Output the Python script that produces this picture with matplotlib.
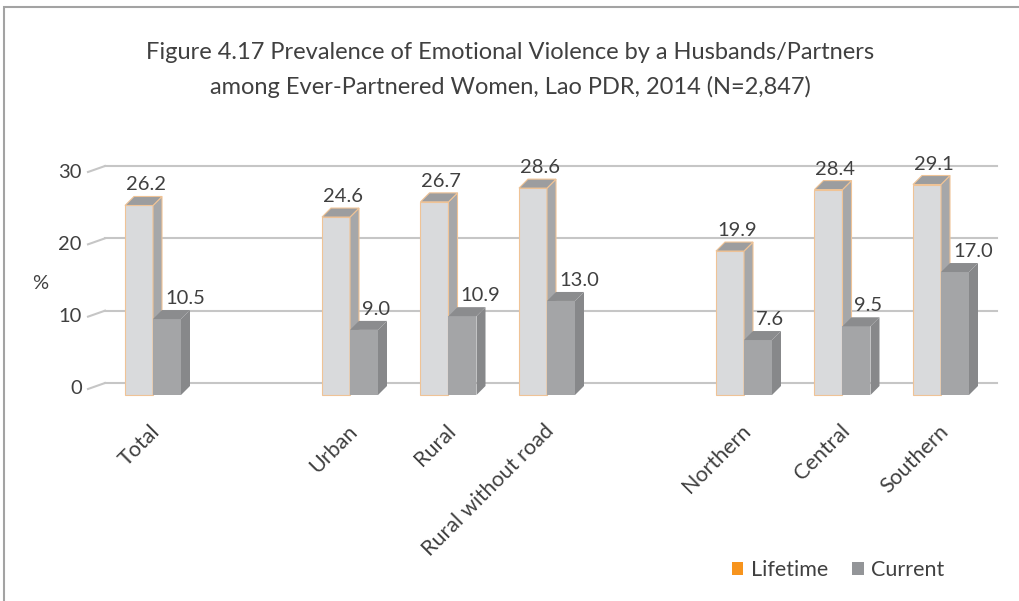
import matplotlib
matplotlib.use("Agg")
import matplotlib.pyplot as plt
from matplotlib.patches import Polygon, Rectangle, Patch

plt.rcParams['font.family'] = ['Lato', 'DejaVu Sans']

# datos
categorias = ["Total", "", "Urban", "Rural", "Rural without road", "", "Northern", "Central", "Southern"]
lifetime = [26.2, None, 24.6, 26.7, 28.6, None, 19.9, 28.4, 29.1]
current = [10.5, None, 9.0, 10.9, 13.0, None, 7.6, 9.5, 17.0]
yticks = [0, 10, 20, 30]
titulo = "Figure 4.17 Prevalence of Emotional Violence by a Husbands/Partners\namong Ever-Partnered Women, Lao PDR, 2014 (N=2,847)"

# escala en pixeles
PX_X = 98.5
PX_Y = 7.233
ancho = 28 / PX_X
dx = 9 / PX_X
dy = 9 / PX_Y
base = -12 / PX_Y
xl, xr = -48 / PX_X, -48 / PX_X + 892 / PX_X

texto = "#404040"
grid = "#c6c6c6"

fig = plt.figure(figsize=(10.2, 6.01), dpi=100)
ax = fig.add_axes([105 / 1020, 200 / 601, 892 / 1020, 235 / 601])
ax.set_xlim(xl, xr)
ax.set_ylim(-18 / PX_Y, 30)
ax.axis("off")

# rejilla con su pequeño tramo diagonal
for v in yticks:
    ax.plot([xl, xr], [v, v], color=grid, lw=1.5, zorder=1, clip_on=False)
    ax.plot([xl - 17 / PX_X, xl], [v - 6 / PX_Y, v], color=grid, lw=1.5, zorder=1, clip_on=False)
    ax.text(xl - 23 / PX_X, v - 6 / PX_Y, str(v), ha="right", va="center",
            fontsize=14.5, color=texto)
ax.text(xl - 65 / PX_X, 13.8, "%", ha="center", va="center", fontsize=14.5, color=texto)


def barra(x0, v, frente, lado, tapa, borde):
    y1 = base + v
    kw = dict(closed=True, clip_on=False, zorder=3, lw=0.8,
              edgecolor=borde if borde else "none")
    ax.add_patch(Polygon([(x0, base), (x0 + ancho, base), (x0 + ancho, y1), (x0, y1)],
                         facecolor=frente, **kw))
    ax.add_patch(Polygon([(x0 + ancho, base), (x0 + ancho + dx, base + dy),
                          (x0 + ancho + dx, y1 + dy), (x0 + ancho, y1)],
                         facecolor=lado, **kw))
    ax.add_patch(Polygon([(x0, y1), (x0 + ancho, y1), (x0 + ancho + dx, y1 + dy), (x0 + dx, y1 + dy)],
                         facecolor=tapa, **kw))


for i, cat in enumerate(categorias):
    if lifetime[i] is not None:
        barra(i - ancho, lifetime[i], "#d9dadc", "#a6a7a9", "#9c9d9f", "#efc396")
        ax.text(i - ancho + 1 / PX_X, base + lifetime[i] + dy + 6 / PX_Y, f"{lifetime[i]:.1f}",
                ha="left", va="baseline", fontsize=14.5, color=texto, zorder=5)
    if current[i] is not None:
        barra(i, current[i], "#a4a5a7", "#87888a", "#8b8c8e", None)
        ax.text(i + 12 / PX_X, base + current[i] + dy + 6 / PX_Y, f"{current[i]:.1f}",
                ha="left", va="baseline", fontsize=14.5, color=texto, zorder=5)
    if cat:
        ax.text(i + 11 / PX_X, base - 26 / PX_Y, cat, rotation=45, ha="right", va="top",
                fontsize=15.5, color=texto)

fig.text(510 / 1020, 1 - 70 / 601, titulo, ha="center", va="center", fontsize=17,
         color=texto, linespacing=1.7)

# marco de la figura
fig.patches.append(Rectangle((4 / 1020, -0.1), 1.2, 1 - 7 / 601 + 0.1, transform=fig.transFigure,
                             fill=False, edgecolor="#a3a3a3", lw=1.5))

manejadores = [Patch(facecolor="#f7941d", label="Lifetime"), Patch(facecolor="#939598", label="Current")]
fig.legend(handles=manejadores, loc="center", bbox_to_anchor=(838 / 1020, 31 / 601), ncol=2,
           frameon=False, fontsize=15.5, handlelength=0.55, handleheight=0.55, handletextpad=0.35,
           columnspacing=1.1, labelcolor=texto)

fig.savefig("out.png", dpi=100)
